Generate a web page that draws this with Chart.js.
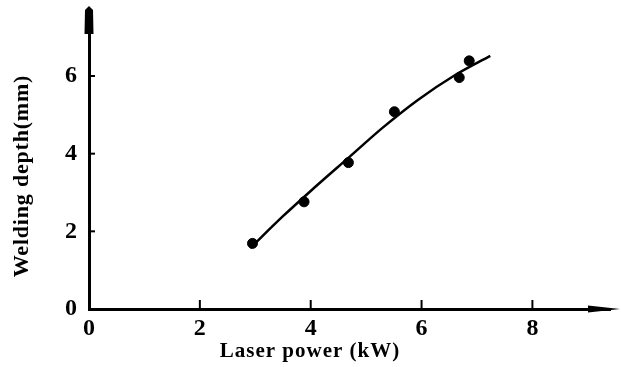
<!DOCTYPE html>
<html>
<head>
<meta charset="utf-8">
<title>Welding depth vs laser power</title>
<script src="https://cdn.jsdelivr.net/npm/chart.js@4.4.1/dist/chart.umd.min.js"></script>
<style>
  html, body { margin: 0; padding: 0; background: #fff; }
  #wrap { width: 622px; height: 367px; position: relative; }
</style>
</head>
<body>
<div id="wrap"><canvas id="chart"></canvas></div>
<script>
// measured points
const powerKW = [2.95, 3.88, 4.68, 5.51, 6.68, 6.86];
const depthMM = [1.69, 2.76, 3.77, 5.08, 5.96, 6.39];

// fitted curve
const fitPowerKW = [2.91, 3.5, 4.0, 4.71, 5.3, 5.94, 6.6, 7.24];
const fitDepthMM = [1.57, 2.39, 3.04, 3.93, 4.67, 5.39, 6.02, 6.52];

// axis ticks
const xTicks = [0, 2, 4, 6, 8];
const yTicks = [0, 2, 4, 6];

const xTitle = 'Laser power (kW)';
const yTitle = 'Welding depth(mm)';

Chart.defaults.font.family = "'Liberation Serif', 'DejaVu Serif', serif";
Chart.defaults.color = '#000';

// inside tick marks, arrow heads and axis titles
const axisExtras = {
    id: 'axisExtras',
    afterDraw(chart) {
        const ctx = chart.ctx;
        const area = chart.chartArea;
        const xs = chart.scales.x;
        const ys = chart.scales.y;
        ctx.save();
        ctx.strokeStyle = '#000';
        ctx.fillStyle = '#000';
        ctx.lineWidth = 2;

        // tick marks pointing into the plot
        xTicks.forEach(v => {
            if (v === 0) return;
            const px = xs.getPixelForValue(v);
            ctx.beginPath();
            ctx.moveTo(px, area.bottom);
            ctx.lineTo(px, area.bottom - 9);
            ctx.stroke();
        });
        yTicks.forEach(v => {
            if (v === 0) return;
            const py = ys.getPixelForValue(v);
            ctx.beginPath();
            ctx.moveTo(area.left, py);
            ctx.lineTo(area.left + 6, py);
            ctx.stroke();
        });

        // arrow on x axis
        ctx.beginPath();
        ctx.moveTo(area.right - 22, area.bottom - 3.5);
        ctx.lineTo(area.right + 10, area.bottom);
        ctx.lineTo(area.right - 22, area.bottom + 3.5);
        ctx.closePath();
        ctx.fill();

        // arrow on y axis
        ctx.beginPath();
        ctx.moveTo(area.left - 4.5, area.top + 24);
        ctx.lineTo(area.left - 4, area.top);
        ctx.lineTo(area.left, area.top - 4);
        ctx.lineTo(area.left + 4, area.top);
        ctx.lineTo(area.left + 4.5, area.top + 24);
        ctx.closePath();
        ctx.fill();

        // axis titles
        ctx.font = "bold 21px 'Liberation Serif', serif";
        ctx.textAlign = 'center';
        ctx.textBaseline = 'middle';
        ctx.letterSpacing = '1px';
        ctx.fillText(xTitle, 310, 352);

        ctx.translate(22, 176);
        ctx.rotate(-Math.PI / 2);
        ctx.font = "bold 22px 'Liberation Serif', serif";
        ctx.letterSpacing = '0.8px';
        ctx.fillText(yTitle, 0, 0);
        ctx.restore();
    }
};

const chart = new Chart(document.getElementById('chart'), {
    type: 'scatter',
    data: {
        datasets: [
            {
                label: 'Fit',
                type: 'line',
                data: fitPowerKW.map((x, i) => ({ x: x, y: fitDepthMM[i] })),
                borderColor: '#000',
                borderWidth: 2.5,
                pointRadius: 0,
                cubicInterpolationMode: 'monotone',
                fill: false
            },
            {
                label: 'Measured',
                data: powerKW.map((x, i) => ({ x: x, y: depthMM[i] })),
                backgroundColor: '#000',
                borderColor: '#000',
                pointRadius: 5,
                pointStyle: 'circle'
            }
        ]
    },
    options: {
        responsive: true,
        maintainAspectRatio: false,
        animation: false,
        layout: {
            padding: { top: 10, right: 12, left: 0, bottom: 0 }
        },
        scales: {
            x: {
                type: 'linear',
                min: 0,
                max: 9.4,
                afterBuildTicks: s => { s.ticks = xTicks.map(v => ({ value: v })); },
                afterFit: s => {
                    s.height = 58;
                    s.paddingLeft = 0;
                    s.paddingRight = 0;
                },
                grid: { display: false, drawTicks: false },
                border: { display: true, color: '#000', width: 3 },
                ticks: {
                    color: '#000',
                    padding: 5,
                    maxRotation: 0,
                    font: { size: 24, weight: 'bold' }
                }
            },
            y: {
                type: 'linear',
                min: 0,
                max: 7.7,
                afterBuildTicks: s => { s.ticks = yTicks.map(v => ({ value: v })); },
                afterFit: s => {
                    s.width = 89;
                    s.paddingTop = 0;
                    s.paddingBottom = 0;
                },
                grid: { display: false, drawTicks: false },
                border: { display: true, color: '#000', width: 3 },
                ticks: {
                    color: '#000',
                    padding: 12,
                    font: { size: 24, weight: 'bold' }
                }
            }
        },
        plugins: {
            legend: { display: false },
            tooltip: { enabled: false }
        }
    },
    plugins: [axisExtras]
});
</script>
</body>
</html>
